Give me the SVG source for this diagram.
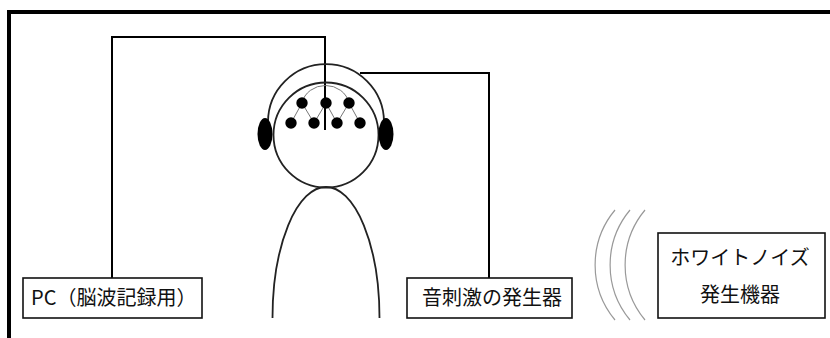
<svg xmlns="http://www.w3.org/2000/svg" width="830" height="338" viewBox="0 0 830 338">
  <style>
    .frame { fill: none; stroke: #000; stroke-width: 4; }
    .wire { fill: none; stroke: #000; stroke-width: 2; }
    .box { fill: #fff; stroke: #111; stroke-width: 1.6; }
    .outline { fill: none; stroke: #222; stroke-width: 1.8; }
    .fine { fill: none; stroke: #777; stroke-width: 1; }
    .wave { fill: none; stroke: #999; stroke-width: 1.2; }
    .dot { fill: #000; }
    .label { font-family: "Noto Sans CJK JP", "Noto Sans", sans-serif; font-size: 20px; fill: #111; }
  </style>
  <rect width="830" height="338" fill="#fff"/>

  <!-- outer frame (top and left edges) -->
  <path class="frame" d="M9 338 V12 H830"/>

  <!-- connectors -->
  <g id="connectors">
    <path class="wire" d="M112 278 V37 H325 V130"/>
    <path class="wire" d="M360 73 H489 V278"/>
  </g>

  <!-- person wearing headphones and electrode cap -->
  <g id="subject">
    <path class="outline" d="M272.5 318 A53.5 131 0 0 1 379.5 318"/>
    <circle class="outline" cx="326" cy="135" r="52.5"/>
    <path class="outline" d="M268 122 A58 58 0 0 1 384 122"/>
    <ellipse class="dot" cx="265" cy="134" rx="7.5" ry="16"/>
    <ellipse class="dot" cx="386" cy="134" rx="7.5" ry="16"/>
    <path class="fine" d="M302 103 A24 22 0 0 1 349 103"/>
    <path class="fine" d="M291 123 L302 103 L314 123 L326 103 L337 123 L349 103 L360 123"/>
    <circle class="dot" cx="302" cy="103" r="5.7"/>
    <circle class="dot" cx="326" cy="103" r="5.7"/>
    <circle class="dot" cx="349" cy="103" r="5.7"/>
    <circle class="dot" cx="291" cy="123" r="5.7"/>
    <circle class="dot" cx="314" cy="123" r="5.7"/>
    <circle class="dot" cx="337" cy="123" r="5.7"/>
    <circle class="dot" cx="360" cy="123" r="5.7"/>
  </g>

  <g id="pc">
    <rect class="box" x="23" y="278" width="179" height="40"/>
    <text class="label" x="31" y="305">PC（脳波記録用）</text>
  </g>

  <g id="stimulus">
    <rect class="box" x="407" y="278" width="165" height="40"/>
    <text class="label" x="492" y="305" text-anchor="middle">音刺激の発生器</text>
  </g>

  <!-- sound waves -->
  <g id="waves">
    <path class="wave" d="M615 210 A86 86 0 0 0 615 320"/>
    <path class="wave" d="M630 210 A86 86 0 0 0 630 320"/>
    <path class="wave" d="M645 210 A86 86 0 0 0 645 320"/>
  </g>

  <g id="noise">
    <rect class="box" x="658" y="233" width="167" height="85"/>
    <text class="label" x="740" y="265" text-anchor="middle">ホワイトノイズ</text>
    <text class="label" x="740" y="302" text-anchor="middle">発生機器</text>
  </g>
</svg>
